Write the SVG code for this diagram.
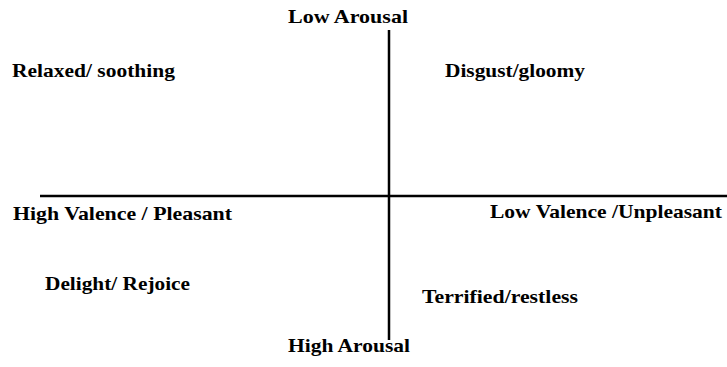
<svg xmlns="http://www.w3.org/2000/svg" width="727" height="367" viewBox="0 0 727 367">
<style>
text{font-family:'Liberation Serif','DejaVu Serif',serif;font-weight:bold;font-size:19px;fill:#000}
.ax{stroke:#000;stroke-width:2.5}
</style>
<rect width="727" height="367" fill="#fff"/>
<g id="connectors">
<line class="ax" x1="40" y1="196" x2="727" y2="196"/>
<line class="ax" x1="389" y1="30" x2="389" y2="340"/>
</g>
<g id="low-arousal"><text x="288" y="23" textLength="120" lengthAdjust="spacingAndGlyphs">Low Arousal</text></g>
<g id="high-arousal"><text x="288" y="352" textLength="122" lengthAdjust="spacingAndGlyphs">High Arousal</text></g>
<g id="high-valence"><text x="13" y="220" textLength="219" lengthAdjust="spacingAndGlyphs">High Valence / Pleasant</text></g>
<g id="low-valence"><text x="490" y="218" textLength="232" lengthAdjust="spacingAndGlyphs">Low Valence /Unpleasant</text></g>
<g id="relaxed"><text x="12" y="77" textLength="163" lengthAdjust="spacingAndGlyphs">Relaxed/ soothing</text></g>
<g id="disgust"><text x="445" y="77" textLength="140" lengthAdjust="spacingAndGlyphs">Disgust/gloomy</text></g>
<g id="delight"><text x="45" y="290" textLength="145" lengthAdjust="spacingAndGlyphs">Delight/ Rejoice</text></g>
<g id="terrified"><text x="422" y="303" textLength="156" lengthAdjust="spacingAndGlyphs">Terrified/restless</text></g>
</svg>
